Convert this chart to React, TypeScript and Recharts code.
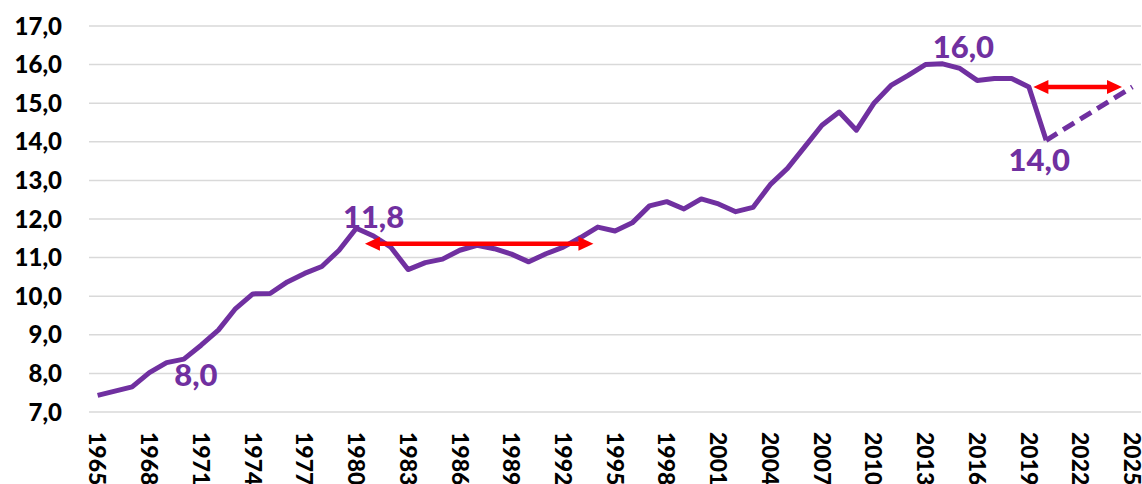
import React from 'react';
import {
  LineChart,
  Line,
  XAxis,
  YAxis,
  CartesianGrid,
  ReferenceLine,
  ReferenceDot,
} from 'recharts';

const PURPLE = '#7030A0';
const RED = '#FF0000';
const FONT = 'Lato, "Open Sans", sans-serif';

const years = [
  1965, 1966, 1967, 1968, 1969, 1970, 1971, 1972, 1973, 1974, 1975, 1976, 1977, 1978, 1979,
  1980, 1981, 1982, 1983, 1984, 1985, 1986, 1987, 1988, 1989, 1990, 1991, 1992, 1993, 1994,
  1995, 1996, 1997, 1998, 1999, 2000, 2001, 2002, 2003, 2004, 2005, 2006, 2007, 2008, 2009,
  2010, 2011, 2012, 2013, 2014, 2015, 2016, 2017, 2018, 2019, 2020,
];
const actual = [
  7.43, 7.54, 7.65, 8.02, 8.28, 8.37, 8.73, 9.12, 9.68, 10.06, 10.07, 10.37, 10.59, 10.77, 11.19,
  11.76, 11.56, 11.27, 10.69, 10.87, 10.96, 11.19, 11.32, 11.23, 11.09, 10.89, 11.1, 11.27, 11.52, 11.79,
  11.69, 11.9, 12.34, 12.45, 12.26, 12.52, 12.39, 12.19, 12.3, 12.89, 13.31, 13.87, 14.43, 14.77, 14.3,
  14.99, 15.46, 15.72, 16.0, 16.02, 15.9, 15.59, 15.64, 15.64, 15.42, 14.04,
];

// dashed outlook, 2020 -> 2025
const forecastYears = [2020, 2025];
const forecast = [14.04, 15.42];

const xTicks = [1965, 1968, 1971, 1974, 1977, 1980, 1983, 1986, 1989, 1992, 1995, 1998, 2001, 2004, 2007, 2010, 2013, 2016, 2019, 2022, 2025];
const yTicks = [7, 8, 9, 10, 11, 12, 13, 14, 15, 16, 17];

const noteLabels = ['8,0', '11,8', '16,0', '14,0'];
const noteYears = [1970.7, 1981.0, 2015.2, 2019.6];
const noteValues = [7.98, 12.09, 16.47, 13.55];

// double-headed arrows: [fromYear, toYear, level]
const arrowFrom = [1980.5, 2019.26];
const arrowTo = [1993.75, 2024.4];
const arrowLevel = [11.36, 15.42];

function buildData() {
  const rows: { year: number; actual: number | null; forecast: number | null }[] = [];
  for (let y = 1965; y <= 2025; y++) {
    const ai = years.indexOf(y);
    const fi = forecastYears.indexOf(y);
    rows.push({
      year: y,
      actual: ai >= 0 ? actual[ai] : null,
      forecast: fi >= 0 ? forecast[fi] : null,
    });
  }
  return rows;
}

const data = buildData();

function YearTick(props: any) {
  const { x, y, payload } = props;
  return (
    <text
      transform={`translate(${x},${y + 20}) rotate(90)`}
      x={0}
      y={0}
      dy="0.36em"
      textAnchor="start"
      fill="#000"
      fontFamily={FONT}
      fontWeight={900}
      fontSize={23}
    >
      {payload.value}
    </text>
  );
}

function ArrowShape(props: any) {
  const { x1, y1, x2 } = props;
  const y = y1;
  const head = 15;
  const half = 7;
  return (
    <g>
      <line x1={x1 + head - 1} y1={y} x2={x2 - head + 1} y2={y} stroke={RED} strokeWidth={4.5} />
      <polygon points={`${x1},${y} ${x1 + head},${y - half} ${x1 + head},${y + half}`} fill={RED} />
      <polygon points={`${x2},${y} ${x2 - head},${y - half} ${x2 - head},${y + half}`} fill={RED} />
    </g>
  );
}

function noteShape(text: string) {
  return (p: any) => (
    <text
      x={p.cx}
      y={p.cy}
      textAnchor="middle"
      dominantBaseline="central"
      fill={PURPLE}
      fontFamily={FONT}
      fontWeight={900}
      fontSize={31}
    >
      {text}
    </text>
  );
}

export default function App() {
  return (
    <div style={{ position: 'absolute', left: 0, top: 0, background: '#fff' }}>
      <LineChart
        width={1142}
        height={484}
        data={data}
        margin={{ top: 26, right: 1, left: 0, bottom: 12 }}
      >
        <CartesianGrid vertical={false} stroke="#d9d9d9" strokeWidth={1.5} />
        <XAxis
          dataKey="year"
          type="number"
          domain={[1964.5, 2025.5]}
          ticks={xTicks}
          interval={0}
          axisLine={false}
          tickLine={false}
          tickSize={0}
          tickMargin={0}
          height={60}
          tick={<YearTick />}
        />
        <YAxis
          type="number"
          domain={[7, 17]}
          ticks={yTicks}
          interval={0}
          axisLine={false}
          tickLine={false}
          tickSize={0}
          tickMargin={27}
          width={89}
          tick={{ fill: '#000', fontSize: 24, fontWeight: 900, fontFamily: FONT }}
          tickFormatter={(v: number) => v.toFixed(1).replace('.', ',')}
        />
        <Line
          type="linear"
          dataKey="actual"
          stroke={PURPLE}
          strokeWidth={5}
          strokeLinejoin="round"
          dot={false}
          connectNulls={false}
          isAnimationActive={false}
        />
        <Line
          type="linear"
          dataKey="forecast"
          stroke={PURPLE}
          strokeWidth={5}
          strokeDasharray="13 7"
          dot={false}
          connectNulls
          isAnimationActive={false}
        />
        {arrowFrom.map((from, i) => (
          <ReferenceLine
            key={`arrow-${i}`}
            segment={[
              { x: from, y: arrowLevel[i] },
              { x: arrowTo[i], y: arrowLevel[i] },
            ]}
            shape={ArrowShape}
          />
        ))}
        {noteLabels.map((label, i) => (
          <ReferenceDot
            key={`note-${i}`}
            x={noteYears[i]}
            y={noteValues[i]}
            r={0}
            shape={noteShape(label)}
          />
        ))}
      </LineChart>
    </div>
  );
}
